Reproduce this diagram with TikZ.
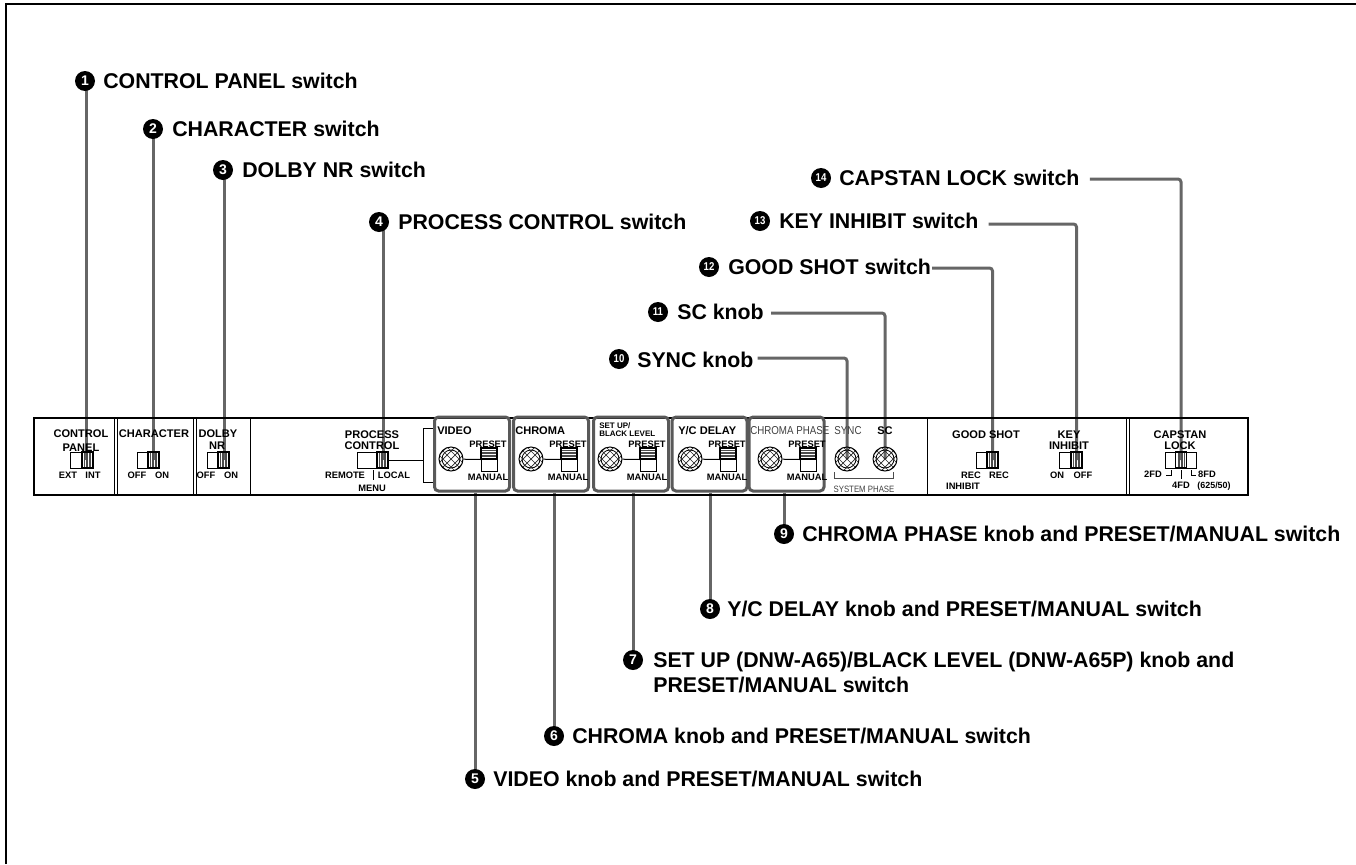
\documentclass[tikz,border=0pt]{standalone}
\usepackage{fontspec}
\setmainfont{Liberation Sans}
\newfontfamily\narrowfont[FakeStretch=0.85]{Liberation Sans}
\pgfdeclarelayer{bg}
\pgfsetlayers{bg,main}
\def\px{0.75pt}
\tikzset{
  lab/.style={anchor=west,inner sep=0pt,font=\fontsize{16pt}{18pt}\bfseries,text height=11.5pt,text depth=0pt},
  bul/.style={circle,fill=black,text=white,inner sep=0pt,minimum size=20*\px,font=\fontsize{10.5pt}{11pt}\bfseries},
  bulw/.style={bul,font=\fontsize{8.5pt}{9pt}\narrowfont\bfseries},
  ts/.style={inner sep=0pt,font=\fontsize{7pt}{8pt}\bfseries,text height=5pt,text depth=0pt},
  tb/.style={inner sep=0pt,font=\fontsize{8.3pt}{9pt}\bfseries,text height=6pt,text depth=0pt},
  tn/.style={inner sep=0pt,font=\fontsize{8.6pt}{9pt}\narrowfont,text=black!75,text height=6pt,text depth=0pt},
  tx/.style={inner sep=0pt,font=\fontsize{6pt}{7pt}\bfseries,text height=4.3pt,text depth=0pt},
  leader/.style={draw=black!60,line width=3*\px},
  frame/.style={draw=black,line width=1.5*\px},
  thin/.style={draw=black,line width=1*\px},
  group/.style={draw=black!65,line width=3*\px,rounded corners=4*\px,minimum width=76*\px,minimum height=74*\px,inner sep=0pt},
  swbody/.style={draw=black,line width=1*\px,inner sep=0pt,minimum height=16*\px},
  lever/.style={draw=black,line width=1.3*\px,inner sep=0pt,minimum width=11*\px,minimum height=16*\px,
    path picture={\foreach \d in {-3,-1.5,0,1.5,3}{\draw[black!70,line width=.8*\px] ([xshift=\d*\px]path picture bounding box.north) -- ([xshift=\d*\px]path picture bounding box.south);}}},
  hlever/.style={draw=black,line width=1.3*\px,inner sep=0pt,minimum width=16*\px,minimum height=11*\px,
    path picture={\foreach \d in {-3,-1.5,0,1.5,3}{\draw[black!70,line width=.8*\px] ([yshift=\d*\px]path picture bounding box.west) -- ([yshift=\d*\px]path picture bounding box.east);}}},
  knob/.style={circle,draw=black,line width=1*\px,inner sep=0pt,minimum size=24*\px,
    path picture={
      \draw[line width=.8*\px] (path picture bounding box.center) circle[radius=9*\px];
      \foreach \d in {-16,-8,0,8,16}{
        \draw[line width=.7*\px,black!85] ([shift={(\d*\px,-14*\px)}]path picture bounding box.center) ++(-14*\px,0) -- ++(28*\px,28*\px);
        \draw[line width=.7*\px,black!85] ([shift={(\d*\px,-14*\px)}]path picture bounding box.center) ++(14*\px,0) -- ++(-28*\px,28*\px);
      }}},
}
\begin{document}
\begin{tikzpicture}[x=\px,y=-\px]
\useasboundingbox (0,0) rectangle (1356,864);
\coordinate (fbl) at (6,864);
\coordinate (ftl) at (6,4);
\coordinate (ftr) at (1356,4);
\draw[frame] (fbl) -- (ftl) -- (ftr);

% panel
\node[frame,inner sep=0pt,minimum width=1214*\px,minimum height=77*\px] (panel) at (641,456.5) {};
\foreach \x in {114,117,193,196,250,927,1126,1129}{
  \draw[thin] (\x,418) -- (\x,495);
}

% control panel
\node[tb] (t1a) at (81,433) {CONTROL};
\node[tb] (t1b) at (81,447) {PANEL};
\node[swbody,minimum width=23*\px] (s1) at (81.5,460) {};
\node[lever] (lv1) at (87.5,460) {};
\node[ts] (t1c) at (68,475) {EXT};
\node[ts] (t1d) at (93,475) {INT};
% character
\node[tb] (t2a) at (154,433) {CHARACTER};
\node[swbody,minimum width=22*\px] (s2) at (148,460) {};
\node[lever] (lv2) at (153.5,460) {};
\node[ts] (t2c) at (137,475) {OFF};
\node[ts] (t2d) at (162,475) {ON};
% dolby
\node[tb] (t3a) at (218,433) {DOLBY};
\node[tb] (t3b) at (217,445) {NR};
\node[swbody,minimum width=22*\px] (s3) at (218,460) {};
\node[lever] (lv3) at (223.5,460) {};
\node[ts] (t3c) at (206,475) {OFF};
\node[ts] (t3d) at (231,475) {ON};
% process control
\node[tb] (t4a) at (372,434) {PROCESS};
\node[tb] (t4b) at (372,445) {CONTROL};
\node[swbody,minimum width=31*\px] (s4) at (372.5,460) {};
\node[lever] (lv4) at (382.5,460) {};
\node[ts] (t4c) at (345,475) {REMOTE};
\node[ts] (t4d) at (394,475) {LOCAL};
\node[ts] (t4e) at (372,488) {MENU};
\coordinate (m1) at (373,470);
\coordinate (m2) at (373,480);
\draw[thin] (m1) -- (m2);
\coordinate (brk) at (423,460);
\draw[thin] (s4.east) -- (brk);
\draw[thin] (435,428) -- (423,428) -- (423,482) -- (435,482);

% five knob groups
\foreach \i/\k/\c in {1/451/472,2/531/551,3/610/631,4/690/709.5,5/770/786.5}{
  \node[group,minimum width=75*\px] (g\i) at (\c,454) {};
  \node[knob] (k\i) at (\k,459) {};
  \node[swbody,minimum width=16*\px,minimum height=23*\px] (v\i) at (\k+38,459.5) {};
  \node[hlever] (pl\i) at (\k+38,453.5) {};
  \draw[thin] (k\i) -- (v\i.west);
  \node[ts] (pr\i) at (\k+37,444) {PRESET};
  \node[ts] (ma\i) at (\k+37,477) {MANUAL};
}
\node[tb,anchor=west] (tv) at (437,430) {VIDEO};
\node[tb,anchor=west] (tc) at (515,430) {CHROMA};
\node[tx,anchor=west] (ts1) at (599,426) {SET UP/};
\node[tx,anchor=west] (ts2) at (599,434) {BLACK LEVEL};
\node[tb,anchor=west] (ty) at (678,430) {Y/C DELAY};
\node[tn,anchor=west] (tp) at (750,430) {CHROMA PHASE};

% sync sc
\node[tn] (tsy) at (848,430) {SYNC};
\node[tb] (tsc) at (885,430) {SC};
\node[knob] (ksy) at (847,459) {};
\node[knob] (ksc) at (885,459) {};
\draw[thin,draw=black!70] (834,472) -- (834,478) -- (893,478) -- (893,472);
\node[tn,font=\fontsize{6.9pt}{8pt}\narrowfont] (tsp) at (864,488) {SYSTEM PHASE};

% good shot
\node[tb] (tg) at (986,434) {GOOD SHOT};
\node[swbody,minimum width=22*\px] (sg) at (987,460) {};
\node[lever] (lvg) at (992.5,460) {};
\node[ts] (tg1) at (971,475) {REC};
\node[ts] (tg2) at (999,475) {REC};
\node[ts] (tg3) at (963,486) {INHIBIT};
% key inhibit
\node[tb] (tk1) at (1069,434) {KEY};
\node[tb] (tk2) at (1069,445) {INHIBIT};
\node[swbody,minimum width=23*\px] (sk) at (1070.5,460) {};
\node[lever] (lvk) at (1076.5,460) {};
\node[ts] (tk3) at (1057,475) {ON};
\node[ts] (tk4) at (1083,475) {OFF};
% capstan
\node[tb] (tc1) at (1180,434) {CAPSTAN};
\node[tb] (tc2) at (1180,445) {LOCK};
\node[swbody,minimum width=31*\px] (sc) at (1180.5,460) {};
\node[lever] (lvc) at (1181,460) {};
\node[ts] (tc3) at (1153,474) {2FD};
\node[ts] (tc4) at (1181,485) {4FD};
\node[ts] (tc5) at (1207,474) {8FD};
\node[ts,font=\fontsize{6.7pt}{8pt}\bfseries] (tc6) at (1214,485) {(625/50)};
\draw[thin] (1166,475) -- (1171,475) -- (1171,470);
\draw[thin] (1181,470) -- (1181,479);
\draw[thin] (1191,470) -- (1191,475) -- (1196,475);

% callouts
\node[bul] (b1) at (85,81) {1};
\node[lab] (l1) at (103,81) {CONTROL PANEL switch};
\node[bul] (b2) at (153,129) {2};
\node[lab] (l2) at (172,129) {CHARACTER switch};
\node[bul] (b3) at (223,170) {3};
\node[lab] (l3) at (242,170) {DOLBY NR switch};
\node[bul] (b4) at (379,222) {4};
\node[lab] (l4) at (398,222) {PROCESS CONTROL switch};
\node[bul] (b5) at (475,779) {5};
\node[lab] (l5) at (493,779) {VIDEO knob and PRESET/MANUAL switch};
\node[bul] (b6) at (554,736) {6};
\node[lab] (l6) at (572,736) {CHROMA knob and PRESET/MANUAL switch};
\node[bul] (b7) at (633,660) {7};
\node[lab] (l7) at (653,660) {SET UP (DNW-A65)/BLACK LEVEL (DNW-A65P) knob and};
\node[lab] (l7b) at (653,685) {PRESET/MANUAL switch};
\node[bul] (b8) at (710,609) {8};
\node[lab] (l8) at (727,609) {Y/C DELAY knob and PRESET/MANUAL switch};
\node[bul] (b9) at (784,534) {9};
\node[lab] (l9) at (802,534) {CHROMA PHASE knob and PRESET/MANUAL switch};
\node[bulw] (b10) at (619,359) {10};
\node[lab] (l10) at (637,360) {SYNC knob};
\node[bulw] (b11) at (658,312) {11};
\node[lab] (l11) at (677,312) {SC knob};
\node[bulw] (b12) at (709,267) {12};
\node[lab] (l12) at (728,267) {GOOD SHOT switch};
\node[bulw] (b13) at (760,221) {13};
\node[lab] (l13) at (779,221) {KEY INHIBIT switch};
\node[bulw] (b14) at (821,178) {14};
\node[lab] (l14) at (839,178) {CAPSTAN LOCK switch};

\begin{pgfonlayer}{bg}
\draw[leader] ([xshift=1]b1.center) -- ([xshift=1]b1.center |- lv1.center);
\draw[leader] (b2.center) -- (b2.center |- lv2.center);
\draw[leader] ([xshift=1]b3.center) -- ([xshift=1]b3.center |- lv3.center);
\draw[leader] ([xshift=3]b4.center) -- ([xshift=3]b4.center |- lv4.center);
\draw[leader] (b5.center) -- (b5.center |- g1.south);
\draw[leader] (b6.center) -- (b6.center |- g2.south);
\draw[leader] (b7.center) -- (b7.center |- g3.south);
\draw[leader] (b8.center) -- (b8.center |- g4.south);
\draw[leader] (b9.center) -- (b9.center |- g5.south);
\draw[leader,rounded corners=3*\px] ([shift={(4,-2)}]l10.east) -| (ksy.center);
\draw[leader,rounded corners=3*\px] ([shift={(7,1)}]l11.east) -| (ksc.center);
\draw[leader,rounded corners=3*\px] ([shift={(1,1)}]l12.east) -| (lvg.center);
\draw[leader,rounded corners=3*\px] ([shift={(10,3)}]l13.east) -| (lvk.center);
\draw[leader,rounded corners=3*\px] ([shift={(10,1)}]l14.east) -| (lvc.center);
\end{pgfonlayer}
\end{tikzpicture}
\end{document}
